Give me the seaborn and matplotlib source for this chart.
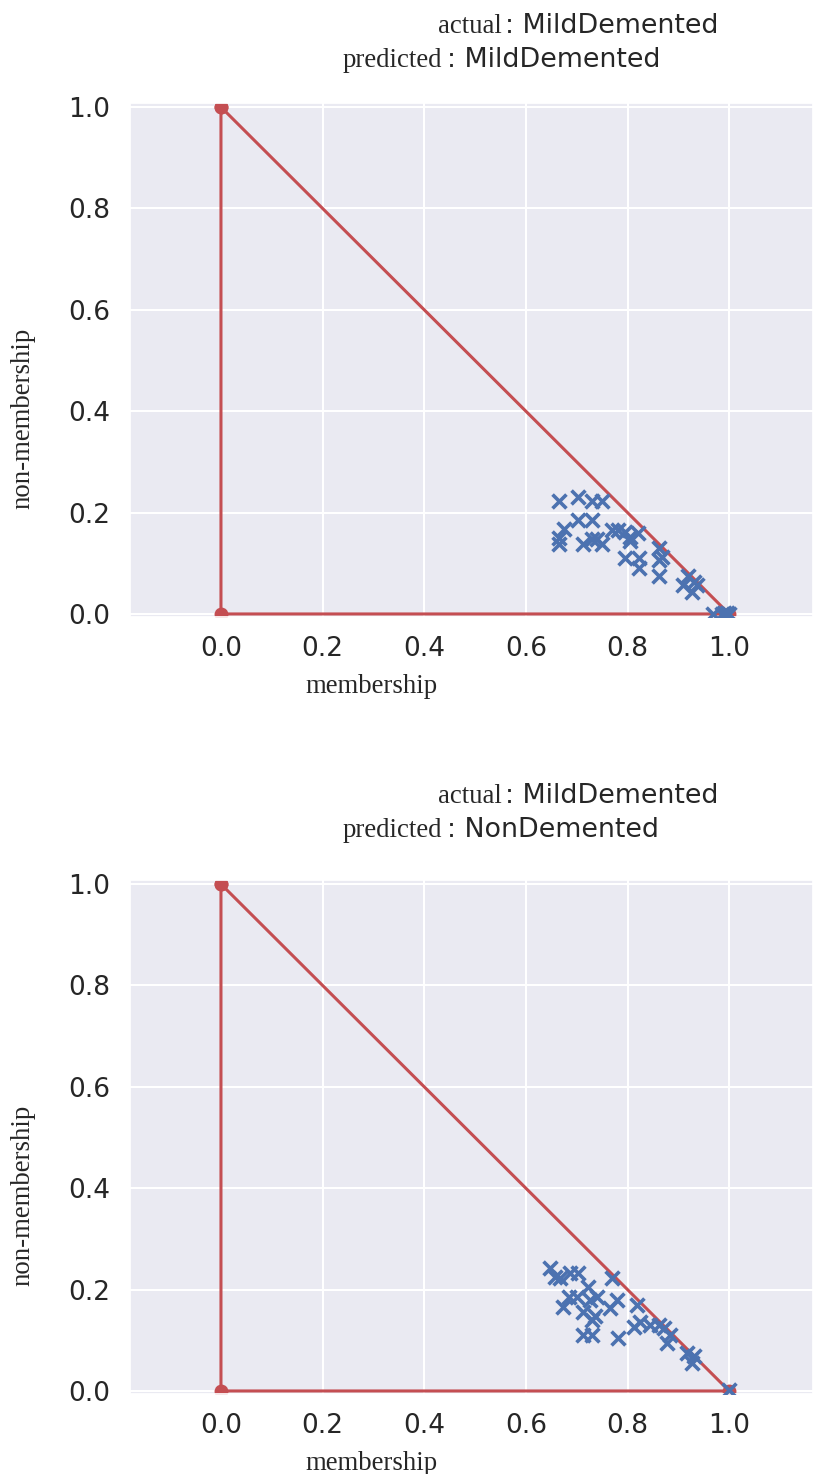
import numpy as np
import pandas as pd
import seaborn as sns
import matplotlib.pyplot as plt

# triangle frame of the intuitionistic fuzzy space
tri_x = [0.0, 0.0, 1.0, 0.0]
tri_y = [1.0, 0.0, 0.0, 1.0]

# panel 1: actual MildDemented, predicted MildDemented
mu_1 = [0.666, 0.703, 0.730, 0.749, 0.703, 0.730, 0.675, 0.666, 0.666, 0.713,
        0.730, 0.740, 0.749, 0.769, 0.782, 0.795, 0.805, 0.805, 0.821, 0.795,
        0.823, 0.823, 0.861, 0.868, 0.861, 0.861, 0.920, 0.930, 0.910, 0.927,
        0.936, 0.969, 0.985, 1.000, 0.990, 0.995]
nu_1 = [0.222, 0.231, 0.222, 0.222, 0.185, 0.185, 0.167, 0.149, 0.138, 0.138,
        0.147, 0.147, 0.138, 0.166, 0.166, 0.162, 0.152, 0.143, 0.159, 0.110,
        0.110, 0.090, 0.130, 0.113, 0.107, 0.074, 0.074, 0.064, 0.057, 0.044,
        0.057, 0.000, 0.000, 0.000, 0.002, 0.001]

# panel 2: actual MildDemented, predicted NonDemented
mu_2 = [0.648, 0.657, 0.667, 0.687, 0.703, 0.769, 0.723, 0.684, 0.700, 0.740,
        0.674, 0.726, 0.713, 0.736, 0.730, 0.766, 0.779, 0.713, 0.730, 0.782,
        0.818, 0.812, 0.825, 0.844, 0.861, 0.871, 0.884, 0.877, 0.917, 0.930,
        0.927, 0.999]
nu_2 = [0.242, 0.225, 0.222, 0.233, 0.232, 0.222, 0.206, 0.186, 0.186, 0.186,
        0.166, 0.179, 0.156, 0.147, 0.140, 0.163, 0.179, 0.110, 0.110, 0.104,
        0.170, 0.127, 0.137, 0.130, 0.130, 0.124, 0.110, 0.094, 0.074, 0.068,
        0.055, 0.002]

actual = ["MildDemented", "MildDemented"]
predicted = ["MildDemented", "NonDemented"]
ticks = [0.0, 0.2, 0.4, 0.6, 0.8, 1.0]

sns.set_theme(style="darkgrid")
plt.rcParams['font.family'] = ['DejaVu Sans']
red = sns.color_palette("deep")[3]
blue = sns.color_palette("deep")[0]

W, H = 813, 1474
fig = plt.figure(figsize=(W / 100, H / 100), dpi=100)

def px(x, y):
    return x / W, 1 - y / H

panels = [
    dict(top=103, mu=mu_1, nu=nu_1, t1=33, t2=67),
    dict(top=880, mu=mu_2, nu=nu_2, t1=803, t2=837),
]

for i, p in enumerate(panels):
    left, bottom = px(130, p["top"] + 514)
    ax = fig.add_axes([left, bottom, 1 - left, 514 / H])
    sns.lineplot(x=tri_x, y=tri_y, sort=False, estimator=None, color=red,
                 linewidth=2.2, marker='o', markersize=10, markeredgewidth=0,
                 ax=ax, zorder=2)
    pts = pd.DataFrame({"membership": p["mu"], "non-membership": p["nu"]})
    sns.scatterplot(data=pts, x="membership", y="non-membership", marker='x',
                    color=blue, s=100, linewidth=2.6, ax=ax, zorder=3)
    ax.set_xlim(-0.179, 1.165)
    ax.set_ylim(-0.006, 1.008)
    ax.set_xticks(ticks)
    ax.set_yticks(ticks)
    ax.grid(color='white', linewidth=1.5)
    ax.tick_params(labelsize=19, length=0, pad=14, labelcolor='#262626')
    ax.set_xlabel("membership", family='Liberation Serif', fontsize=19.3)
    ax.set_ylabel("non-membership", family='Liberation Serif', fontsize=19.3)
    ax.xaxis.set_label_coords(0.353, -0.11)
    ax.yaxis.set_label_coords(-0.139, 0.386)

    # two-line title: serif word followed by ": class"
    x, y = px(502, p["t1"])
    fig.text(x, y, "actual", family='Liberation Serif', fontsize=19.3,
             ha='right', va='baseline', color='#262626')
    x, y = px(505, p["t1"])
    fig.text(x, y, ": " + actual[i], fontsize=19.4, ha='left', va='baseline',
             color='#262626')
    x, y = px(442, p["t2"])
    fig.text(x, y, "predicted", family='Liberation Serif', fontsize=19.3,
             ha='right', va='baseline', color='#262626')
    x, y = px(447, p["t2"])
    fig.text(x, y, ": " + predicted[i], fontsize=19.4, ha='left',
             va='baseline', color='#262626')

fig.savefig("out.png", dpi=100)
